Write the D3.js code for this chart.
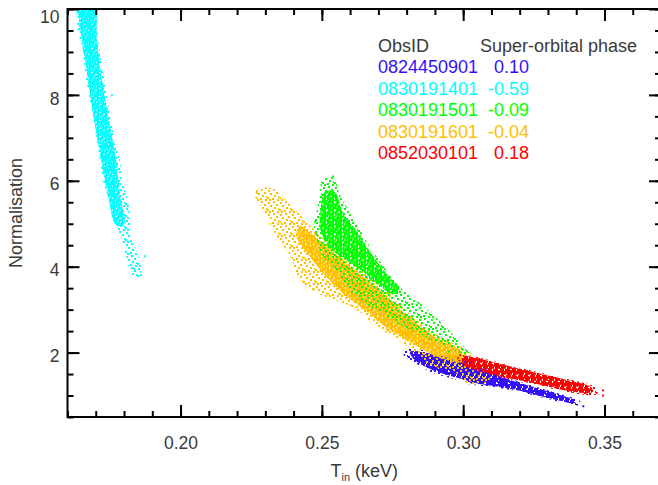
<!DOCTYPE html>
<html>
<head>
<meta charset="utf-8">
<script src="https://d3js.org/d3.v7.min.js"></script>
<style>
  body { margin: 0; background: #fff; }
  text { font-family: "Liberation Sans", Arial, sans-serif; }
</style>
</head>
<body>
<svg id="chart" width="658" height="485"></svg>
<script>
// legend / series
var obsIds = ['0824450901', '0830191401', '0830191501', '0830191601', '0852030101'];
var phases = ['0.10', '-0.59', '-0.09', '-0.04', '0.18'];
var colors = ['#3311ff', '#00ffff', '#00ff00', '#ffc000', '#ff0000'];

var xTicks = [0.20, 0.25, 0.30, 0.35];
var yTicks = [2, 4, 6, 8, 10];

// outlines of each point cloud, [T_in, norm]
// "halo" = sparse outer part, "core" = dense part
var haloCyan = [[0.1641,10.20],[0.1637,9.50],[0.1655,9.035],[0.1662,8.52],[0.1676,7.99],[0.1690,7.50],
  [0.1704,6.94],[0.1715,6.48],[0.1726,5.99],[0.1747,5.55],[0.1765,5.08],[0.1793,4.62],[0.1807,4.27],
  [0.1818,3.97],[0.1835,3.78],[0.1857,3.78],[0.1857,4.11],[0.1842,4.38],[0.1825,4.66],[0.1821,5.08],
  [0.1814,5.55],[0.1793,5.99],[0.1786,6.48],[0.1768,6.83],[0.1761,7.17],[0.1750,7.50],[0.1740,7.99],
  [0.1726,8.52],[0.1715,9.035],[0.1704,9.50],[0.1697,10.20]];
var coreCyan = [[0.1644,10.2],[0.1651,9.267],[0.1673,8.337],[0.1694,7.407],[0.1719,6.477],[0.1743,5.663],
  [0.1772,4.965],[0.1800,4.965],[0.1786,5.663],[0.1772,6.477],[0.1747,7.407],[0.1722,8.337],[0.1704,9.267],
  [0.1694,10.2]];

var haloBlue = [[0.2790,2.07],[0.2883,2.03],[0.2954,1.93],[0.3014,1.83],[0.3060,1.69],[0.3130,1.48],
  [0.3201,1.314],[0.3272,1.174],[0.3343,1.035],[0.3413,0.872],[0.3417,0.779],[0.3343,0.849],[0.3272,0.965],
  [0.3201,1.081],[0.3130,1.17],[0.3060,1.23],[0.3014,1.31],[0.2954,1.41],[0.2893,1.53],[0.2820,1.80],
  [0.2790,1.93]];
var coreBlue = [[0.2812,2.02],[0.2883,1.98],[0.2954,1.89],[0.3014,1.79],[0.3060,1.65],[0.3130,1.45],
  [0.3201,1.29],[0.3272,1.15],[0.3343,1.01],[0.3400,0.87],[0.3390,0.82],[0.3343,0.88],[0.3272,0.99],
  [0.3201,1.11],[0.3130,1.20],[0.3060,1.27],[0.3014,1.35],[0.2954,1.46],[0.2893,1.59],[0.2830,1.82]];

var haloGreen = [[0.2504,6.058],[0.2540,6.105],[0.2564,5.663],[0.2617,5.081],[0.2660,4.570],[0.2716,4.035],
  [0.2770,3.570],[0.2847,3.151],[0.2943,2.570],[0.2989,2.221],[0.3024,2.012],[0.2996,1.965],[0.2954,2.105],
  [0.2890,2.291],[0.2794,2.593],[0.2716,2.895],[0.2635,3.221],[0.2582,3.570],[0.2547,3.965],[0.2501,4.267],
  [0.2472,4.895],[0.2486,5.430],[0.2493,5.779]];
var coreGreen = [[0.2512,5.75],[0.2545,5.75],[0.2575,5.25],[0.2620,4.85],[0.2665,4.40],[0.2720,3.90],
  [0.2775,3.45],[0.2750,3.35],[0.2690,3.65],[0.2630,3.95],[0.2575,4.20],[0.2525,4.45],[0.2495,4.85],
  [0.2495,5.30]];

var haloOrange = [[0.2263,5.779],[0.2324,5.826],[0.2387,5.453],[0.2458,4.965],[0.2547,4.384],[0.2617,4.035],
  [0.2706,3.570],[0.2801,2.965],[0.2883,2.523],[0.2954,2.244],[0.3024,2.012],[0.3031,1.779],[0.3095,1.360],
  [0.3024,1.244],[0.2971,1.547],[0.2883,1.709],[0.2830,2.012],[0.2759,2.337],[0.2688,2.640],[0.2617,3.035],
  [0.2547,3.221],[0.2476,3.407],[0.2423,3.686],[0.2387,4.267],[0.2345,4.663],[0.2299,5.198],[0.2263,5.640]];
var coreOrange = [[0.2420,4.95],[0.2493,4.60],[0.2582,4.105],[0.2706,3.453],[0.2812,2.802],[0.2918,2.291],
  [0.2996,2.012],[0.2996,1.779],[0.2918,1.872],[0.2830,2.174],[0.2741,2.523],[0.2653,2.988],[0.2582,3.337],
  [0.2511,3.802],[0.2450,4.30],[0.2410,4.70]];

var haloRed = [[0.2982,1.942],[0.3049,1.895],[0.3130,1.756],[0.3247,1.570],[0.3368,1.384],[0.3467,1.198],
  [0.3477,1.081],[0.3467,1.012],[0.3368,1.081],[0.3247,1.267],[0.3130,1.430],[0.3060,1.547],[0.3007,1.686],
  [0.2982,1.826]];
var coreRed = [[0.3000,1.91],[0.3049,1.87],[0.3130,1.74],[0.3247,1.55],[0.3368,1.36],[0.3455,1.18],
  [0.3455,1.07],[0.3368,1.11],[0.3247,1.29],[0.3130,1.45],[0.3060,1.57],[0.3000,1.72]];

// a few stray points outside the clouds
var strays = [
  [1, 0.1874, 4.244], [1, 0.1860, 3.802], [1, 0.1757, 7.99], [1, 0.1836, 3.95],
  [2, 0.2540, 6.10], [2, 0.2476, 5.05], [2, 0.2950, 2.02],
  [3, 0.2345, 4.70], [3, 0.2472, 3.47], [3, 0.2270, 5.72],
  [4, 0.3495, 1.12], [4, 0.3495, 1.00], [0, 0.3425, 0.75]
];

var clouds = [
  {i: 1, halo: haloCyan, core: coreCyan, fill: 'dense'},
  {i: 0, halo: haloBlue, core: coreBlue, fill: 'heavy'},
  {i: 3, halo: haloOrange, core: coreOrange, fill: 'dense'},
  {i: 2, halo: haloGreen, core: coreGreen, fill: 'dense'},
  {i: 4, halo: haloRed, core: coreRed, fill: 'heavy'}
];

var svg = d3.select('#chart');
var pL = 67.5, pR = 661, pT = 9, pB = 417;

var x = d3.scaleLinear().domain([0.16, 0.37]).range([pL, pR]);
var y = d3.scaleLinear().domain([0.5, 10]).range([pB, pT]);

var defs = svg.append('defs');
defs.append('clipPath').attr('id', 'plotclip')
  .append('rect').attr('x', pL).attr('y', pT)
  .attr('width', pR - pL).attr('height', pB - pT);

// speckle textures: sparse for the outskirts, denser toward the middle
var sparseDots = [[1,1],[6,0],[9,3],[3,4],[7,6],[0,8],[5,9],[10,10],[2,10],[11,7]];
var denseDots = [[0,0],[2,0],[4,1],[6,0],[1,2],[3,3],[5,2],[0,4],[2,5],[4,5],[6,4],[1,7],[5,7],[3,6],[7,2],[6,6]];
var heavyDots = [[0,0],[2,0],[4,0],[1,2],[3,2],[5,2],[0,4],[2,4]];

function addPattern(id, c, size, dots, shift) {
  var p = defs.append('pattern').attr('id', id)
    .attr('width', size).attr('height', size)
    .attr('patternUnits', 'userSpaceOnUse')
    .attr('patternTransform', 'translate(' + shift + ',' + (shift * 0.6) + ')');
  p.selectAll('rect').data(dots).enter().append('rect')
    .attr('x', function(d) { return d[0]; })
    .attr('y', function(d) { return d[1]; })
    .attr('width', 2).attr('height', 2)
    .attr('fill', c);
}
colors.forEach(function(c, i) {
  addPattern('sparse' + i, c, 12, sparseDots, i * 5);
  addPattern('dense' + i, c, 8, denseDots, i * 3);
  addPattern('heavy' + i, c, 6, heavyDots, i * 2);
});

var outline = d3.line()
  .x(function(d) { return x(d[0]); })
  .y(function(d) { return y(d[1]); })
  .curve(d3.curveCatmullRomClosed.alpha(0.5));

var plot = svg.append('g').attr('clip-path', 'url(#plotclip)');

clouds.forEach(function(cl) {
  plot.append('path').attr('d', outline(cl.halo))
    .attr('fill', 'url(#sparse' + cl.i + ')');
  plot.append('path').attr('d', outline(cl.core))
    .attr('fill', 'url(#' + cl.fill + cl.i + ')');
});

plot.selectAll('rect.stray').data(strays).enter().append('rect')
  .attr('class', 'stray')
  .attr('x', function(d) { return x(d[1]) - 1; })
  .attr('y', function(d) { return y(d[2]) - 1; })
  .attr('width', 2).attr('height', 2)
  .attr('fill', function(d) { return colors[d[0]]; });

// axes: box with inward ticks
var xMinor = d3.range(16, 38).map(function(v) { return v / 100; });
var yMinor = d3.range(1, 21).map(function(v) { return v / 2; });

function styleAxis(g) {
  g.select('.domain').remove();
  g.selectAll('line').attr('stroke', '#000').attr('stroke-width', 2);
  g.selectAll('text').attr('fill', '#3a3a3a').style('font-size', '17.5px')
    .style('font-family', '"Liberation Sans", Arial, sans-serif');
}

svg.append('g').attr('transform', 'translate(0,' + pB + ')')
  .call(d3.axisBottom(x).tickValues(xMinor).tickSize(-6).tickFormat(''))
  .call(styleAxis);
svg.append('g').attr('transform', 'translate(0,' + pB + ')')
  .call(d3.axisBottom(x).tickValues(xTicks).tickSize(-12).tickPadding(20).tickFormat(d3.format('.2f')))
  .call(styleAxis);
svg.append('g').attr('transform', 'translate(0,' + pT + ')')
  .call(d3.axisTop(x).tickValues(xMinor).tickSize(-6).tickFormat(''))
  .call(styleAxis);
svg.append('g').attr('transform', 'translate(0,' + pT + ')')
  .call(d3.axisTop(x).tickValues(xTicks).tickSize(-12).tickFormat(''))
  .call(styleAxis);

svg.append('g').attr('transform', 'translate(' + pL + ',0)')
  .call(d3.axisLeft(y).tickValues(yMinor).tickSize(-6).tickFormat(''))
  .call(styleAxis);
svg.append('g').attr('transform', 'translate(' + pL + ',0)')
  .call(d3.axisLeft(y).tickValues(yTicks).tickSize(-12).tickPadding(8).tickFormat(d3.format('d')))
  .call(styleAxis)
  .selectAll('text').attr('dy', function(d) { return d === 10 ? '0.78em' : '0.52em'; });
svg.append('g').attr('transform', 'translate(' + pR + ',0)')
  .call(d3.axisRight(y).tickValues(yMinor).tickSize(-6).tickFormat(''))
  .call(styleAxis);
svg.append('g').attr('transform', 'translate(' + pR + ',0)')
  .call(d3.axisRight(y).tickValues(yTicks).tickSize(-12).tickFormat(''))
  .call(styleAxis);

svg.append('rect')
  .attr('x', pL).attr('y', pT)
  .attr('width', pR - pL).attr('height', pB - pT)
  .attr('fill', 'none').attr('stroke', '#000').attr('stroke-width', 2);

// axis titles
var xt = svg.append('text')
  .attr('x', (pL + pR) / 2).attr('y', 477)
  .attr('text-anchor', 'middle')
  .attr('fill', '#3a3a3a').style('font-size', '18px');
xt.append('tspan').text('T');
xt.append('tspan').text('in').attr('dy', 4).style('font-size', '11px');
xt.append('tspan').text(' (keV)').attr('dy', -4);

svg.append('text')
  .attr('transform', 'translate(22,' + ((pT + pB) / 2) + ') rotate(-90)')
  .attr('text-anchor', 'middle')
  .attr('fill', '#3a3a3a').style('font-size', '18px')
  .text('Normalisation');

// legend
var lg = svg.append('g').style('font-size', '18px');
lg.append('text').attr('x', 378).attr('y', 52).attr('fill', '#3a3a3a').text('ObsID');
lg.append('text').attr('x', 480).attr('y', 52).attr('fill', '#3a3a3a').text('Super-orbital phase');
lg.selectAll('text.id').data(obsIds).enter().append('text')
  .attr('class', 'id')
  .attr('x', 378)
  .attr('y', function(d, i) { return 73 + i * 21.6; })
  .attr('fill', function(d, i) { return colors[i]; })
  .text(function(d) { return d; });
lg.selectAll('text.ph').data(phases).enter().append('text')
  .attr('class', 'ph')
  .attr('x', 529).attr('text-anchor', 'end')
  .attr('y', function(d, i) { return 73 + i * 21.6; })
  .attr('fill', function(d, i) { return colors[i]; })
  .text(function(d) { return d; });
</script>
</body>
</html>
